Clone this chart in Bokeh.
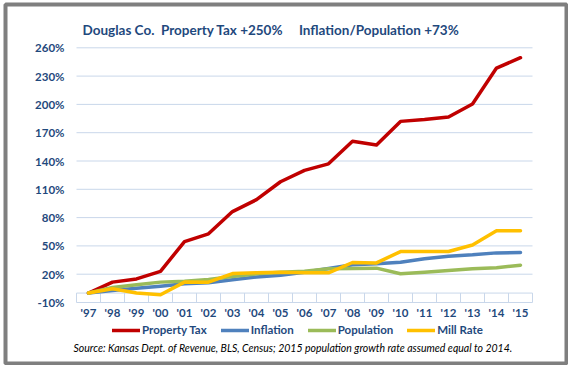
from bokeh.plotting import figure
from bokeh.models import Range1d, FixedTicker, PrintfTickFormatter, Legend, LegendItem, Label
from bokeh.embed import file_html
from bokeh.resources import INLINE

years = ["'97", "'98", "'99", "'00", "'01", "'02", "'03", "'04", "'05", "'06",
         "'07", "'08", "'09", "'10", "'11", "'12", "'13", "'14", "'15"]
property_tax = [0, 11.6, 15, 23, 54.6, 62.8, 86.4, 99, 118, 130, 137, 161, 157, 182, 184, 186.6, 200.4, 238.5, 249.5]
inflation = [0, 2.8, 5, 7.3, 9.8, 11, 14, 17, 19, 22, 26, 30, 31, 32.7, 36.3, 39, 40.5, 42.6, 43]
population = [0, 6, 8.8, 11.6, 12.6, 14.5, 17.5, 20.4, 22, 23.2, 25.7, 26, 26.4, 20.4, 22, 23.9, 25.7, 26.8, 29.5]
mill_rate = [0, 4.5, 0, -1.8, 11.6, 11.5, 20.7, 21.5, 22, 21.5, 21.5, 32.4, 32, 44, 44, 44, 51, 66, 66]
y_ticks = [-10, 20, 50, 80, 110, 140, 170, 200, 230, 260]

series = [("Property Tax", property_tax, "#C00000"),
          ("Inflation", inflation, "#4F81BD"),
          ("Population", population, "#9BBB59"),
          ("Mill Rate", mill_rate, "#FFC000")]

TITLE = "Douglas Co.\u00a0\u00a0Property Tax +250%\u00a0\u00a0\u00a0\u00a0\u00a0Inflation/Population +73%"
SOURCE = "Source: Kansas Dept. of Revenue, BLS, Census; 2015 population growth rate assumed  equal to 2014."

FONT = "Lato"
DARK = "#1F497D"
GRID = "#C9D7EA"
FRAME_GRAY = "#7F7F7F"

# ---- layout (pixels inside the canvas) ----
W, H = 568, 365
BL, BT, BR, BB = 5, 4, 2, 2   # frame inset -> frame outline acts as the outer gray border
PX_L, PX_R = 76, 532          # plot-area left/right
PX_T, PX_B = 47.3, 302        # plot-area top (260%) / bottom (-10%)
n = len(years)
x_scale = (PX_R - PX_L) / n
y_scale = (PX_B - PX_T) / (y_ticks[-1] - y_ticks[0])


def dx(px):
    return -0.5 + (px - PX_L) / x_scale


def dy(py):
    return y_ticks[0] + (PX_B - py) / y_scale


x = list(range(n))

p = figure(width=W, height=H, output_backend="svg", toolbar_location=None,
           x_range=Range1d(dx(BL), dx(W - BR)), y_range=Range1d(dy(H - BB), dy(BT)),
           min_border_left=BL, min_border_right=BR, min_border_top=BT, min_border_bottom=BB)
p.outline_line_color = FRAME_GRAY
p.outline_line_width = 4
p.background_fill_color = "white"
p.border_fill_color = "white"
p.xgrid.grid_line_color = None
p.ygrid.grid_line_color = None

# y axis placed at the plot-area's left edge
p.yaxis.fixed_location = -0.5
p.yaxis.ticker = FixedTicker(ticks=y_ticks)
p.yaxis.formatter = PrintfTickFormatter(format="%d%%")
p.yaxis.axis_line_color = None
p.yaxis.major_tick_line_color = None
p.yaxis.minor_tick_line_color = None
p.yaxis.major_tick_out = 0
p.yaxis.major_tick_in = 0
p.yaxis.major_label_standoff = 12
p.yaxis.major_label_text_font = FONT
p.yaxis.major_label_text_font_style = "bold"
p.yaxis.major_label_text_font_size = "11.5px"
p.yaxis.major_label_text_color = DARK

# x axis placed at -10%
p.xaxis.fixed_location = y_ticks[0]
p.xaxis.ticker = FixedTicker(ticks=x)
p.xaxis.major_label_overrides = {i: years[i] for i in x}
p.xaxis.axis_line_color = None
p.xaxis.major_tick_line_color = None
p.xaxis.minor_tick_line_color = None
p.xaxis.major_tick_out = 0
p.xaxis.major_tick_in = 0
p.xaxis.major_label_standoff = 3
p.xaxis.major_label_text_font = FONT
p.xaxis.major_label_text_font_style = "bold"
p.xaxis.major_label_text_font_size = "11.5px"
p.xaxis.major_label_text_color = DARK

# horizontal grid lines, zero line and category separators
p.segment(x0=[-0.5] * len(y_ticks), x1=[n - 0.5] * len(y_ticks), y0=y_ticks, y1=y_ticks,
          line_color=GRID, line_width=1)
p.segment(x0=[-0.5], x1=[n - 0.5], y0=[0], y1=[0], line_color=GRID, line_width=1)
seps = [i - 0.5 for i in range(n + 1)]
p.segment(x0=seps, x1=seps, y0=[y_ticks[0]] * len(seps), y1=[0] * len(seps),
          line_color=GRID, line_width=1)

items = []
for name, vals, col in series:
    r = p.line(x, vals, line_color=col, line_width=3.5, line_join="round", line_cap="round")
    items.append(LegendItem(label=name, renderers=[r]))

legend = Legend(items=items, orientation="horizontal", location=(107, 27),
                label_text_font=FONT, label_text_font_style="bold",
                label_text_font_size="11.5px", label_text_color=DARK,
                glyph_width=28, glyph_height=12, label_standoff=2, spacing=14,
                padding=1, margin=0, border_line_color=None, background_fill_alpha=0)
p.add_layout(legend, "center")

p.add_layout(Label(x=dx(82), y=dy(29), text=TITLE, text_font=FONT, text_font_style="bold",
                   text_font_size="13.5px", text_color=DARK,
                   text_align="left", text_baseline="middle"))
p.add_layout(Label(x=dx(73), y=dy(347), text=SOURCE, text_font=FONT, text_font_style="italic",
                   text_font_size="10.5px", text_color="black",
                   text_align="left", text_baseline="middle"))

open("out.html", "w").write(file_html(p, INLINE))
